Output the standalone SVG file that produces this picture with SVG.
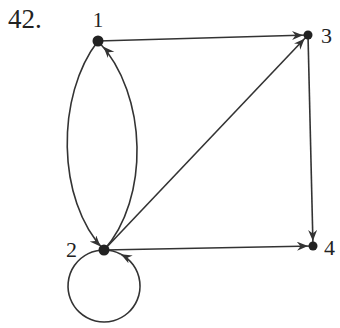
<svg xmlns="http://www.w3.org/2000/svg" width="340" height="328" viewBox="0 0 340 328">
<defs>
<style>
.e{fill:none;stroke:#333;stroke-width:1.6}
.n{fill:#222}
.t{font-family:"Liberation Serif","Times New Roman",serif;fill:#222}
</style>
<marker id="a" markerUnits="userSpaceOnUse" markerWidth="22" markerHeight="10" refX="16" refY="4.5" orient="auto">
<path d="M0,0 L11,4.5 L0,9 L3.5,4.5 z" fill="#333"/>
</marker>
<marker id="c" markerUnits="userSpaceOnUse" markerWidth="24" markerHeight="10" refX="19" refY="4.5" orient="auto">
<path d="M0,0 L11,4.5 L0,9 L3.5,4.5 z" fill="#333"/>
</marker>
<marker id="b" markerUnits="userSpaceOnUse" markerWidth="12" markerHeight="10" refX="11" refY="4.5" orient="auto">
<path d="M0,0 L11,4.5 L0,9 L3.5,4.5 z" fill="#333"/>
</marker>
</defs>
<rect width="340" height="328" fill="#fff"/>
<text class="t" x="8" y="28" font-size="27">42.</text>
<g id="edges">
<path class="e" d="M98,41 L308,35" marker-end="url(#a)"/>
<path class="e" d="M308,35 L313,246" marker-end="url(#a)"/>
<path class="e" d="M104,250 L313,246" marker-end="url(#a)"/>
<path class="e" d="M104,250 L308,35" marker-end="url(#a)"/>
<path class="e" d="M98,41 C56,95 56,200 104,250" marker-end="url(#a)"/>
<path class="e" d="M104,250 C149,200 149,95 98,41" marker-end="url(#c)"/>
<path class="e" d="M104,250 A36,36 0 1,0 120.9,254.2" marker-end="url(#b)"/>
<path class="e" d="M120.9,254.2 A36,36 0 0,0 104,250"/>
</g>
<g id="node1"><circle class="n" cx="98" cy="41" r="5.5"/><text class="t" x="98" y="27" font-size="21" text-anchor="middle">1</text></g>
<g id="node2"><circle class="n" cx="104" cy="250" r="5.5"/><text class="t" x="66" y="257" font-size="22">2</text></g>
<g id="node3"><circle class="n" cx="308" cy="35" r="4.5"/><text class="t" x="321" y="43" font-size="22">3</text></g>
<g id="node4"><circle class="n" cx="313" cy="246" r="4.5"/><text class="t" x="324" y="255" font-size="22">4</text></g>
</svg>
